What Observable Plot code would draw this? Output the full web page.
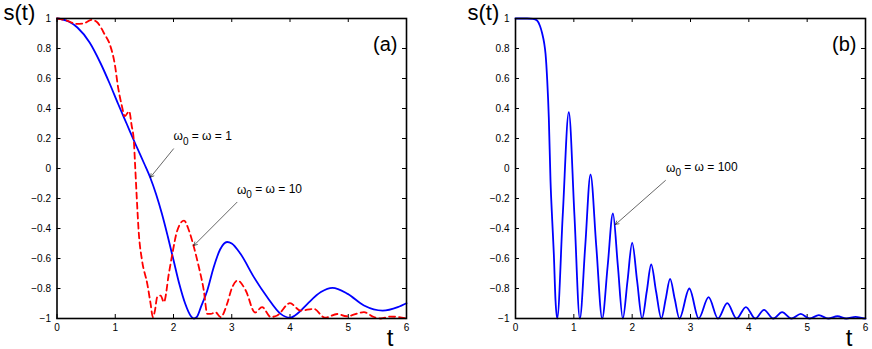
<!DOCTYPE html>
<html>
<head>
<meta charset="utf-8">
<script src="https://cdn.jsdelivr.net/npm/d3@7"></script>
<script src="https://cdn.jsdelivr.net/npm/@observablehq/plot@0.6"></script>
<style>
  html, body { margin: 0; padding: 0; background: #fff; }
  #chart { display: flex; width: 872px; height: 349px; background: #fff; }
  #chart svg { display: block; }
</style>
</head>
<body>
<div id="chart"></div>
<script>
// ---- tick labels ----
const xTicks = [0, 1, 2, 3, 4, 5, 6];
const yTicks = [-1, -0.8, -0.6, -0.4, -0.2, 0, 0.2, 0.4, 0.6, 0.8, 1];

// ---- panel (a): omega0 = omega = 1 (blue, solid) ----
const tA1 = [0, 0.2, 0.35, 0.56, 0.75, 0.9, 1.05, 1.2, 1.35, 1.5, 1.6, 1.7, 1.8, 1.9, 2.0, 2.1, 2.2, 2.3, 2.35, 2.4, 2.47, 2.58, 2.69, 2.8, 2.92, 3.0, 3.15, 3.38, 3.61, 3.84, 4.0, 4.15, 4.3, 4.53, 4.73, 4.99, 5.27, 5.59, 5.85, 6.0];
const sA1 = [1, 0.98, 0.94, 0.84, 0.70, 0.57, 0.43, 0.295, 0.16, 0.03, -0.06, -0.17, -0.30, -0.45, -0.61, -0.77, -0.90, -0.985, -1.0, -0.99, -0.924, -0.813, -0.658, -0.54, -0.49, -0.5, -0.569, -0.724, -0.858, -0.969, -0.995, -0.96, -0.902, -0.824, -0.796, -0.836, -0.913, -0.947, -0.924, -0.898];

// ---- panel (a): omega0 = omega = 10 (red, dashed) ----
const tA10 = [0, 0.163, 0.335, 0.45, 0.593, 0.68, 0.82, 0.907, 0.993, 1.05, 1.108, 1.165, 1.21, 1.24, 1.28, 1.32, 1.34, 1.37, 1.405, 1.46, 1.55, 1.607, 1.646, 1.68, 1.72, 1.78, 1.835, 1.92, 1.98, 2.065, 2.18, 2.265, 2.35, 2.436, 2.52, 2.58, 2.64, 2.72, 2.81, 2.92, 3.0, 3.1, 3.24, 3.4, 3.52, 3.67, 3.78, 4.0, 4.18, 4.41, 4.6, 4.81, 4.97, 5.27, 5.44, 5.56, 5.73, 6.0];
const sA10 = [1, 0.987, 0.964, 0.966, 0.991, 0.978, 0.893, 0.827, 0.693, 0.538, 0.427, 0.349, 0.37, 0.382, 0.29, 0.18, 0.03, -0.2, -0.435, -0.613, -0.769, -0.902, -0.991, -0.95, -0.858, -0.847, -0.891, -0.702, -0.569, -0.413, -0.347, -0.413, -0.524, -0.658, -0.813, -0.969, -0.969, -0.958, -0.991, -0.902, -0.8, -0.747, -0.813, -0.96, -0.924, -0.99, -0.98, -0.898, -0.947, -0.936, -0.995, -0.97, -0.985, -0.958, -0.99, -1.0, -0.987, -1.0];

// ---- panel (b): omega0 = omega = 100 (blue, solid) ----
const tB = [0, 0.2, 0.3, 0.37, 0.42, 0.458, 0.49, 0.515, 0.544, 0.571, 0.6, 0.63, 0.657, 0.686, 0.715,
  0.81, 0.914, 1.01, 1.103, 1.195, 1.286, 1.385, 1.486, 1.58, 1.67, 1.755, 1.84, 1.92, 2.0, 2.085, 2.17,
  2.25, 2.326, 2.41, 2.5, 2.575, 2.65, 2.73, 2.81, 2.98, 3.14, 3.31, 3.47, 3.63, 3.79, 3.95, 4.11, 4.26,
  4.42, 4.57, 4.73, 4.89, 5.04, 5.2, 5.36, 5.52, 5.67, 5.83, 5.99, 6.0];
const sB = [1, 1, 0.998, 0.987, 0.95, 0.9, 0.84, 0.764, 0.587, 0.34, -0.08, -0.35, -0.569, -0.88, -1,
  -0.31, 0.375, -0.31, -1, -0.52, -0.04, -0.52, -1, -0.65, -0.30, -0.65, -1, -0.75, -0.495, -0.75, -1,
  -0.82, -0.64, -0.82, -1, -0.87, -0.736, -0.87, -1, -0.80, -1, -0.858, -1, -0.898, -1, -0.924, -1, -0.942,
  -1, -0.958, -1, -0.969, -1, -0.978, -1, -0.985, -1, -0.989, -1, -1];

// ---- annotations (data coordinates) ----
const annA = [
  {label: "ω₀ = ω = 1",  tx: 2.0,  sy: 0.187,  t1: 2.0,  s1: 0.131,  t2: 1.605, s2: -0.058},
  {label: "ω₀ = ω = 10", tx: 3.09, sy: -0.167, t1: 3.09, s1: -0.225, t2: 2.35,  s2: -0.513}
];
const annB = [
  {label: "ω₀ = ω = 100", tx: 2.58, sy: -0.025, t1: 2.57, s1: -0.08, t2: 1.714, s2: -0.373}
];

const rows = (ts, ss) => ts.map((t, i) => ({t, s: ss[i]}));
const fmt = d => (d < 0 ? "\u2212" : "") + String(Math.abs(d));
const FONT = "'Liberation Sans', Arial, Helvetica, sans-serif";

function panel({width, marginLeft, marginRight, lines, ann, tag, ylabDx}) {
  const marginTop = 18, marginBottom = 31, height = 349;
  const pw = width - marginLeft - marginRight;
  const ph = height - marginTop - marginBottom;
  const tl = 4;
  const svg = Plot.plot({
    width, height, marginLeft, marginRight, marginTop, marginBottom,
    x: {domain: [0, 6]},
    y: {domain: [-1, 1]},
    style: {fontFamily: FONT, fontSize: "10px", color: "black", background: "white", overflow: "visible"},
    marks: [
      Plot.axisX(xTicks, {tickSize: 0, tickPadding: 5, tickFormat: fmt, label: null, fontSize: 10}),
      Plot.axisY(yTicks, {tickSize: 0, tickPadding: 6, tickFormat: fmt, label: null, fontSize: 10}),
      // inward ticks on all sides
      Plot.tickX(xTicks, {x: d => d, insetTop: ph - tl, stroke: "black", strokeWidth: 1}),
      Plot.tickX(xTicks, {x: d => d, insetBottom: ph - tl, stroke: "black", strokeWidth: 1}),
      Plot.tickY(yTicks, {y: d => d, insetRight: pw - tl, stroke: "black", strokeWidth: 1}),
      Plot.tickY(yTicks, {y: d => d, insetLeft: pw - tl, stroke: "black", strokeWidth: 1}),
      ...lines,
      Plot.arrow(ann, {x1: "t1", y1: "s1", x2: "t2", y2: "s2", stroke: "black", strokeWidth: 0.6, headLength: 9, bend: 0}),
      Plot.text(ann, {x: "tx", y: "sy", text: "label", textAnchor: "start", lineAnchor: "bottom", fontSize: 12, fontFamily: FONT, fill: "black", className: "omega-label"}),
      Plot.frame({stroke: "black", strokeWidth: 1.6}),
      // panel tag
      Plot.text([tag], {frameAnchor: "top-right", text: d => d, dx: -9, dy: 32, lineAnchor: "bottom", textAnchor: "end", fontSize: 20, fontFamily: FONT, fill: "black"}),
      // y label
      Plot.text(["s(t)"], {frameAnchor: "top-left", text: d => d, dx: ylabDx, dy: 1, lineAnchor: "bottom", textAnchor: "start", fontSize: 22, fontFamily: FONT, fill: "black"}),
      // x label
      Plot.text(["t"], {frameAnchor: "bottom-right", text: d => d, dx: -16.5, dy: 27, lineAnchor: "bottom", textAnchor: "middle", fontSize: 24, fontFamily: FONT, fill: "black"})
    ]
  });
  // turn the "₀" into a real subscript 0
  d3.select(svg).selectAll("text").each(function () {
    const el = d3.select(this);
    const s = this.textContent;
    if (!s.includes("₀") || this.querySelector("tspan")) return;
    const [a, b] = s.split("₀");
    el.text(null);
    el.append("tspan").text(a);
    el.append("tspan").attr("dy", "0.42em").attr("font-size", 10).text("0");
    el.append("tspan").attr("dy", "-0.42em").text(b);
  });
  return svg;
}

const left = panel({
  width: 436, marginLeft: 56.5, marginRight: 30,
  tag: "(a)", ylabDx: -53.5,
  ann: annA,
  lines: [
    Plot.line(rows(tA1, sA1), {x: "t", y: "s", stroke: "#0000ff", strokeWidth: 1.8, curve: "monotone-x"}),
    Plot.line(rows(tA10, sA10), {x: "t", y: "s", stroke: "#ff0000", strokeWidth: 1.8, strokeDasharray: "6,4", curve: "monotone-x"})
  ]
});
const right = panel({
  width: 436, marginLeft: 79, marginRight: 7,
  tag: "(b)", ylabDx: -48,
  ann: annB,
  lines: [
    Plot.line(rows(tB, sB), {x: "t", y: "s", stroke: "#0000ff", strokeWidth: 1.8, curve: "monotone-x"})
  ]
});
document.getElementById("chart").append(left, right);
</script>
</body>
</html>
